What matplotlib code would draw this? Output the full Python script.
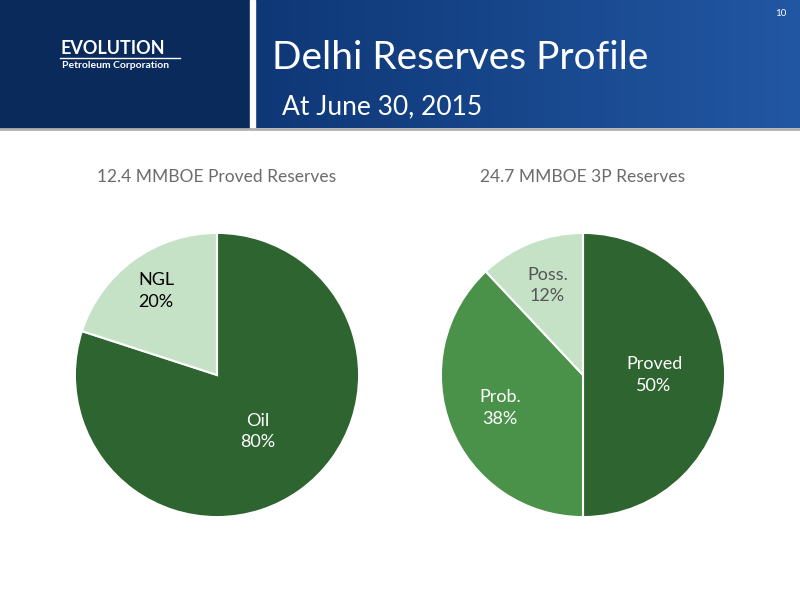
import numpy as np
import matplotlib
matplotlib.use("Agg")
import matplotlib.pyplot as plt
from matplotlib.patches import Rectangle
from matplotlib.colors import LinearSegmentedColormap

left_title = "12.4 MMBOE Proved Reserves"
left_labels = ["Oil", "NGL"]
left_values = [80, 20]
left_colors = ["#2e6430", "#c6e2c6"]
left_text_colors = ["white", "black"]
left_label_r = [0.49, 0.73]

right_title = "24.7 MMBOE 3P Reserves"
right_labels = ["Proved", "Prob.", "Poss."]
right_values = [50, 38, 12]
right_colors = ["#2e6430", "#4a9249", "#c6e2c6"]
right_text_colors = ["white", "white", "#555555"]
right_label_r = [0.5, 0.63, 0.68]

FONT = "Lato"
fig = plt.figure(figsize=(8, 6), dpi=100)
fig.patch.set_facecolor("white")

bg = fig.add_axes([0, 0, 1, 1]); bg.axis("off")
bg.add_patch(Rectangle((0, 0), 250, 128, color="#0b2a5c"))
grad = np.linspace(0, 1, 256).reshape(1, -1)
cm = LinearSegmentedColormap.from_list("g", ["#0e3776", "#2257a3"])
bg.imshow(grad, extent=(255, 800, 128, 0), cmap=cm, aspect="auto")
bg.add_patch(Rectangle((250, 0), 5, 128, color="white"))
bg.plot([0, 800], [129, 129], color="#b0b0b0", lw=2)
bg.set_xlim(0, 800); bg.set_ylim(600, 0)
bg.text(272, 58, "Delhi Reserves Profile", color="white", fontsize=28, family=FONT, va="center")
bg.text(282, 107, "At June 30, 2015", color="white", fontsize=19, family=FONT, va="center")
bg.text(786, 14, "10", color="white", fontsize=7, family=FONT, ha="right", va="center")
bg.text(60, 49, "EVOLUTION", color="white", fontsize=13, family=FONT, weight="bold", va="center")
bg.plot([60, 180], [58, 58], color="white", lw=1)
bg.text(62, 66, "Petroleum Corporation", color="white", fontsize=7.5, family=FONT, weight="bold", va="center")
bg.text(217, 177, left_title, color="#6b6b6b", fontsize=12.5, family=FONT, ha="center", va="center")
bg.text(583, 177, right_title, color="#6b6b6b", fontsize=12.5, family=FONT, ha="center", va="center")

def draw(cx, labels, values, colors, tcolors, radii):
    d = 287
    ax = fig.add_axes([(cx - d / 2) / 800, (600 - 375 - d / 2) / 600, d / 800, d / 600])
    wedges, _ = ax.pie(values, colors=colors, startangle=90, counterclock=False,
                       wedgeprops=dict(edgecolor="white", linewidth=1.5))
    for w, lab, v, tc, r in zip(wedges, labels, values, tcolors, radii):
        a = np.deg2rad((w.theta1 + w.theta2) / 2)
        ax.text(r * np.cos(a), r * np.sin(a), f"{lab}\n{v}%", color=tc, fontsize=13,
                family=FONT, ha="center", va="center", linespacing=1.4)
    ax.set_xlim(-1.01, 1.01); ax.set_ylim(-1.01, 1.01)
    ax.set_aspect("equal")

draw(217, left_labels, left_values, left_colors, left_text_colors, left_label_r)
draw(583, right_labels, right_values, right_colors, right_text_colors, right_label_r)

fig.savefig("out.png", dpi=100)
